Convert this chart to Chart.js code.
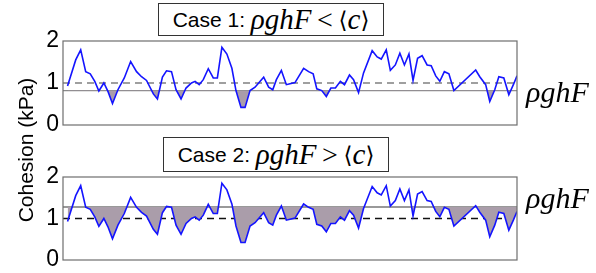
<!DOCTYPE html>
<html>
<head>
<meta charset="utf-8">
<script src="https://cdn.jsdelivr.net/npm/chart.js@4/dist/chart.umd.min.js"></script>
<style>
  html, body { margin:0; padding:0; background:#fff; }
  body { width:596px; height:273px; position:relative; overflow:hidden; }
  canvas { position:absolute; left:0; }
  .box { position:absolute; border:1.5px solid #333; background:#fff; box-sizing:border-box;
         display:flex; align-items:center; justify-content:center; white-space:nowrap; }
  .sans { font-family:"Liberation Sans", Arial, sans-serif; font-size:21px; }
  .math { font-family:"Liberation Serif", "DejaVu Serif", serif; font-style:italic; font-size:29px; }
  .up { font-family:"Liberation Serif", "DejaVu Serif", serif; font-style:normal; font-size:28px; }
  .ang { font-family:"DejaVu Serif", serif; font-style:normal; font-size:23px; }
  .rlab { position:absolute; font-family:"Liberation Serif", "DejaVu Serif", serif; font-style:italic; font-size:30px; line-height:1; }
  .ylab { position:absolute; font-family:"Liberation Sans", Arial, sans-serif; font-size:21px; transform:rotate(-90deg); transform-origin:center center; white-space:nowrap; }
</style>
</head>
<body>
<canvas id="c1" width="596" height="136" style="top:0px"></canvas>
<canvas id="c2" width="596" height="137" style="top:136px"></canvas>

<div class="box" style="left:158px; top:3px; width:226px; height:33px;">
  <span class="sans">Case 1:&nbsp;</span><span class="math">ρghF</span><span class="up">&thinsp;&lt;&thinsp;</span><span class="ang">⟨</span><span class="math">c</span><span class="ang">⟩</span>
</div>
<div class="box" style="left:163px; top:137px; width:226px; height:35px;">
  <span class="sans">Case 2:&nbsp;</span><span class="math">ρghF</span><span class="up">&thinsp;&gt;&thinsp;</span><span class="ang">⟨</span><span class="math">c</span><span class="ang">⟩</span>
</div>
<div class="rlab" style="left:526px; top:77px;">ρghF</div>
<div class="rlab" style="left:526px; top:183px;">ρghF</div>
<div class="ylab" style="left:-49px; top:138px; width:150px; text-align:center;">Cohesion (kPa)</div>

<script>
// ---- data ----
const distance = [1.0,2.8,3.9,5.0,6.0,7.0,7.9,9.0,9.9,10.9,12.1,13.5,14.9,16.2,17.3,18.4,19.9,20.8,21.9,22.8,23.9,24.9,26.0,27.1,28.3,29.1,30.0,30.9,32.0,33.1,34.0,35.0,36.1,37.2,38.1,39.2,40.1,41.2,42.3,44.2,45.3,46.2,47.0,48.1,49.2,50.0,51.1,53.0,54.1,55.1,55.9,57.0,58.0,59.0,60.0,61.1,62.0,63.1,64.0,65.1,66.2,68.1,69.2,70.1,71.2,72.1,73.2,74.2,75.2,76.2,77.1,78.1,79.1,80.2,81.1,82.1,83.0,84.0,85.0,86.1,90.9,91.8,93.1,94.0,95.1,96.0,97.1,98.2,99.2,100.0];
const cohesion = [0.93,1.55,1.79,1.27,1.22,1.04,0.81,1.00,0.80,0.51,0.84,1.12,1.51,1.27,1.15,1.06,0.74,0.62,1.14,1.29,1.27,0.84,0.62,0.88,1.00,1.04,0.96,1.08,1.34,1.12,1.12,1.85,1.69,1.35,0.82,0.42,0.42,0.82,0.90,1.14,0.90,0.84,1.08,1.30,0.96,0.98,1.01,1.35,1.27,1.22,0.86,0.82,0.68,0.88,0.88,1.04,0.96,1.19,1.08,0.77,1.24,1.77,1.62,1.57,1.79,1.30,1.43,1.71,1.43,1.69,1.06,1.59,1.65,1.43,1.41,1.17,1.04,1.27,1.22,0.82,1.31,1.15,0.96,0.56,0.84,1.15,1.12,0.72,0.96,1.17];
const meanCohesion = 1.0;
const rhoGhF_case1 = 0.82;
const rhoGhF_case2 = 1.28;
const yTicks = [0, 1, 2];
const xRange = [0, 100];

const seriesPoints = distance.map((x, i) => ({ x: x, y: cohesion[i] }));
const hline = v => xRange.map(x => ({ x: x, y: v }));

const framePlugin = {
  id: 'frame',
  afterDraw(chart) {
    const a = chart.chartArea, ctx = chart.ctx;
    ctx.save();
    ctx.strokeStyle = '#6e6e6e';
    ctx.lineWidth = 1.2;
    ctx.strokeRect(a.left, a.top, a.right - a.left, a.bottom - a.top);
    ctx.restore();
  }
};

function makeChart(id, rho, padTop, padBottom, dashColor, rhoColor, rhoWidth) {
  return new Chart(document.getElementById(id), {
    type: 'line',
    data: {
      datasets: [
        { data: seriesPoints, borderColor: '#1414ff', borderWidth: 1.6, pointRadius: 0, tension: 0,
          fill: { target: { value: rho }, above: 'rgba(0,0,0,0)', below: 'rgb(170,157,170)' }, order: 0 },
        { data: hline(meanCohesion), borderColor: dashColor, borderWidth: 1.3, borderDash: [7, 5],
          pointRadius: 0, fill: false, order: 1 },
        { data: hline(rho), borderColor: rhoColor, borderWidth: rhoWidth, pointRadius: 0, fill: false, order: 2 }
      ]
    },
    options: {
      responsive: false,
      animation: false,
      devicePixelRatio: 1,
      layout: { padding: { top: padTop, bottom: padBottom, right: 79, left: 0 } },
      plugins: { legend: { display: false }, tooltip: { enabled: false }, title: { display: false } },
      scales: {
        x: { type: 'linear', min: xRange[0], max: xRange[1], display: false },
        y: {
          min: yTicks[0], max: yTicks[yTicks.length - 1],
          afterBuildTicks: s => { s.ticks = yTicks.map(v => ({ value: v })); },
          afterFit: s => { s.width = 63; s.paddingTop = 0; s.paddingBottom = 0; },
          grid: { display: false, drawTicks: false },
          border: { display: false },
          ticks: { color: '#000', padding: 4, font: { family: 'Liberation Sans', size: 23 } }
        }
      }
    },
    plugins: [framePlugin]
  });
}

makeChart('c1', rhoGhF_case1, 41, 11, '#808080', '#8a8a8a', 1.2);
makeChart('c2', rhoGhF_case2, 41, 13, '#111111', '#777777', 1.5);
</script>
</body>
</html>
